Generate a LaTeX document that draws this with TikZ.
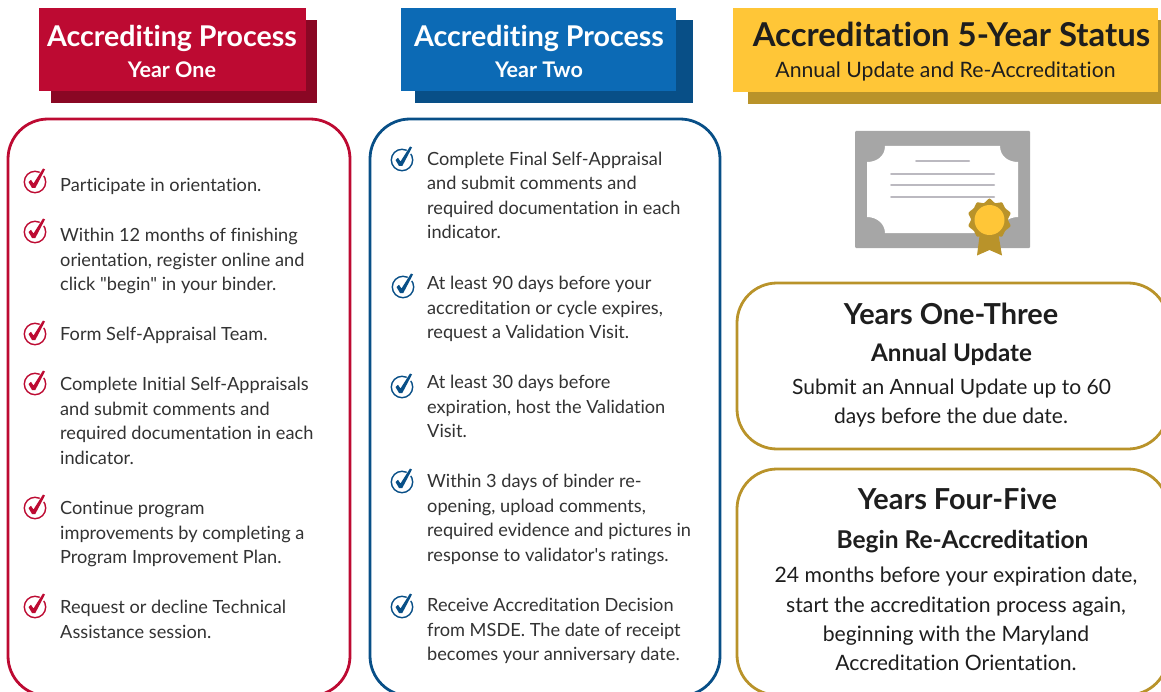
\documentclass[tikz,border=0pt]{standalone}
\usepackage{fontspec}
\setmainfont{Lato}[Ligatures={NoCommon,TeXOff}]
\definecolor{red1}{HTML}{BD0A32}
\definecolor{red2}{HTML}{8A0724}
\definecolor{blue1}{HTML}{0C6AB5}
\definecolor{blue2}{HTML}{084F87}
\definecolor{yel1}{HTML}{FFC637}
\definecolor{yel2}{HTML}{B9932A}
\definecolor{txt}{HTML}{333333}
\definecolor{dark}{HTML}{1E1E1E}
\definecolor{gry}{HTML}{A6A6A6}
\definecolor{lin}{HTML}{BBB9C0}
\tikzset{
 x=1bp,y=-1bp,
 item/.style={anchor=base west,inner sep=0pt,text=txt,font=\fontsize{18.25}{24.7}\selectfont,align=left},
 blk/.style={item,anchor=north west},
 head/.style={anchor=base,inner sep=0pt,font=\fontsize{28.7}{34}\selectfont\bfseries},
 sub/.style={anchor=base,inner sep=0pt,font=\fontsize{21.3}{24}\selectfont},
 yrsub/.style={sub,text=white,font=\fontsize{21.6}{24}\selectfont\bfseries},
 roundbox/.style={draw=#1,line width=2.8bp,fill=white,rounded corners=40bp},
 rtxt/.style={anchor=base,inner sep=0pt,text=dark,font=\fontsize{#1}{#1}\selectfont},
 rhead/.style={anchor=base,inner sep=0pt,text=dark,font=\fontsize{#1}{#1}\selectfont\bfseries},
 pics/chk/.style={code={
   \draw[#1,line width=1.4bp] (0,0) circle[radius=10.7];
   \draw[white,line width=5bp] (-0.5,2) -- (9,-11);
   \fill[#1] (-6.5,0) -- (-4,-2.2) -- (-1.5,1.5) -- (8,-13.5) -- (10,-12.5) -- (0.3,6) -- (-3,6) -- cycle;
 }}
}
\newcommand{\ck}[3]{\pic at (#1,#2) {chk=#3};}
\begin{document}
\begin{tikzpicture}
\useasboundingbox (0,0) rectangle (1161,692);
\clip (0,0) rectangle (1161,692);
% headers
\fill[red2] (51,20) rectangle (317,103);
\fill[red1] (39,8) rectangle (306,91);
\node[head,text=white] (h1) at (172,47) {Accrediting Process};
\node[yrsub] (s1) at (172,78) {Year One};
\fill[blue2] (415,20) rectangle (693,103);
\fill[blue1] (401,8) rectangle (676,91);
\node[head,text=white] (h2) at (539,47) {Accrediting Process};
\node[yrsub] (s2) at (539,78) {Year Two};
\fill[yel2] (748,20) rectangle (1175,104);
\fill[yel1] (733,8) rectangle (1158,92);
\node[head,text=dark,font=\fontsize{33}{34}\selectfont\bfseries] (h3) at (951.5,47) {Accreditation 5-Year Status};
\node[sub,text=dark] (s3) at (945.5,78) {Annual Update and Re-Accreditation};
% boxes
\draw[roundbox=red1] (8,119) rectangle (350,696);
\draw[roundbox=blue2] (370,119) rectangle (720,696);
\draw[roundbox=yel2] (737,283) rectangle (1168,449);
\draw[roundbox=yel2] (737,469) rectangle (1168,695);
% left column
\ck{35}{182}{red1}\node[item] (a1) at (60,191.5) {Participate in orientation.};
\ck{35}{232}{red1}\node[blk] (a2) at (60,228) {Within 12 months of finishing\\orientation, register online and\\click "begin" in your binder.};
\ck{35}{334}{red1}\node[item] (a3) at (60,340) {Form Self-Appraisal Team.};
\ck{35}{384}{red1}\node[blk] (a4) at (60,377) {Complete Initial Self-Appraisals\\and submit comments and\\required documentation in each\\indicator.};
\ck{35}{508}{red1}\node[blk] (a5) at (60,501) {Continue program\\improvements by completing a\\Program Improvement Plan.};
\ck{35}{607}{red1}\node[blk] (a6) at (60,600) {Request or decline Technical\\Assistance session.};
% middle column
\ck{402}{160}{blue2}\node[blk] (b1) at (427,151.5) {Complete Final Self-Appraisal\\and submit comments and\\required documentation in each\\indicator.};
\ck{403}{287}{blue2}\node[blk] (b2) at (427,276) {At least 90 days before your\\accreditation or cycle expires,\\request a Validation Visit.};
\ck{402}{387}{blue2}\node[blk] (b3) at (427,375) {At least 30 days before\\expiration, host the Validation\\Visit.};
\ck{402}{482}{blue2}\node[blk] (b4) at (427,474) {Within 3 days of binder re-\\opening, upload comments,\\required evidence and pictures in\\response to validator's ratings.};
\ck{402}{607}{blue2}\node[blk] (b5) at (427,598) {Receive Accreditation Decision\\from MSDE. The date of receipt\\becomes your anniversary date.};
% certificate
\fill[gry,rounded corners=1bp] (855,131) rectangle (1030,248);
\fill[white] (885,146) -- (1000,146)
  .. controls (1000,156) and (1008,162) .. (1018,162) -- (1018,217)
  .. controls (1008,217) and (1000,224) .. (1000,233) -- (885,233)
  .. controls (885,224) and (877,217) .. (867,217) -- (867,162)
  .. controls (877,162) and (885,156) .. (885,146) -- cycle;
\draw[lin,line width=2bp,line cap=round] (916,161) -- (969,161);
\draw[lin,line width=2bp,line cap=round] (891,174.5) -- (994,174.5);
\draw[lin,line width=2bp,line cap=round] (891,185.5) -- (994,185.5);
\draw[lin,line width=2bp,line cap=round] (891,197) -- (994,197);
\fill[yel2] (980,232) -- (977,255.5) -- (989.5,250) -- (1002,255.5) -- (998,232) -- cycle;
\fill[yel2] plot[smooth cycle,tension=0.4] coordinates {
 (989.5,198.5) (995,203) (1002,202.5) (1005,208) (1010.5,213) (1008,219.5) (1010.5,226)
 (1005,231) (1002,236.5) (995,236) (989.5,240.5) (984,236) (977,236.5) (974,231) (968.5,226)
 (971,219.5) (968.5,213) (974,208) (977,202.5) (984,203)};
\fill[yel1] (989.5,220) circle[radius=15];
% right column
\node[rhead=29] (c1) at (951,324) {Years One-Three};
\node[rhead=24.3] (c2) at (951.5,361) {Annual Update};
\node[rtxt=21.1] (c3) at (951.5,394) {Submit an Annual Update up to 60};
\node[rtxt=21.1] (c4) at (951,423) {days before the due date.};
\node[rhead=29] (d1) at (957.5,509) {Years Four-Five};
\node[rhead=24.6] (d2) at (962.5,548) {Begin Re-Accreditation};
\node[rtxt=21.25] (d3) at (956,582) {24 months before your expiration date,};
\node[rtxt=21.25] (d4) at (956,612) {start the accreditation process again,};
\node[rtxt=21.25] (d5) at (956,641) {beginning with the Maryland};
\node[rtxt=21.25] (d6) at (956,670) {Accreditation Orientation.};
\end{tikzpicture}
\end{document}
